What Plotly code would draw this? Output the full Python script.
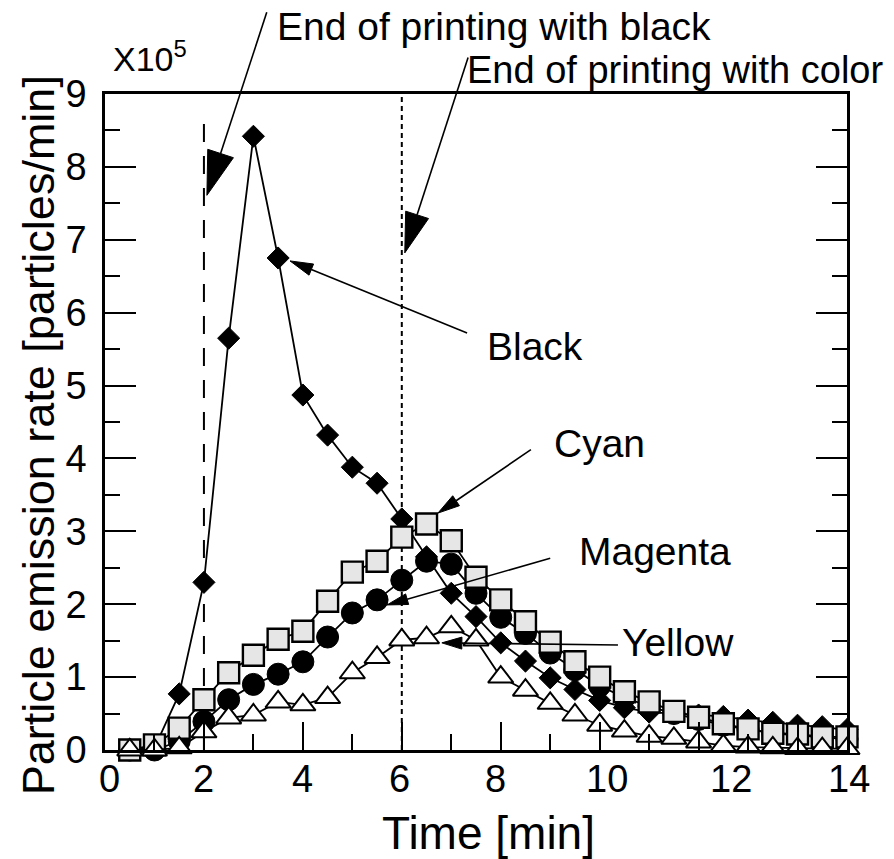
import math
import plotly.graph_objects as go

# ---- data -------------------------------------------------------------
TIME_MIN = [0.5, 1.0, 1.5, 2.0, 2.5, 3.0, 3.5, 4.0, 4.5, 5.0,
            5.5, 6.0, 6.5, 7.0, 7.5, 8.0, 8.5, 9.0, 9.5, 10.0,
            10.5, 11.0, 11.5, 12.0, 12.5, 13.0, 13.5, 14.0, 14.5, 15.0]

# emission rate, x10^5 particles/min
BLACK = [0.00, 0.03, 0.77, 2.30, 5.65, 8.42, 6.75, 4.87, 4.32, 3.88,
         3.66, 3.17, 2.65, 2.15, 1.83, 1.47, 1.22, 0.99, 0.83, 0.68,
         0.58, 0.52, 0.50, 0.48, 0.46, 0.41, 0.38, 0.34, 0.32, 0.28]
CYAN = [0.00, 0.07, 0.30, 0.69, 1.06, 1.30, 1.52, 1.63, 2.04, 2.44,
        2.59, 2.92, 3.10, 2.87, 2.37, 2.06, 1.76, 1.48, 1.21, 1.00,
        0.80, 0.66, 0.53, 0.45, 0.36, 0.29, 0.23, 0.22, 0.18, 0.18]
MAGENTA = [0.00, 0.00, 0.12, 0.39, 0.69, 0.90, 1.04, 1.21, 1.55, 1.88,
           2.06, 2.33, 2.59, 2.55, 2.15, 1.82, 1.60, 1.33, 1.10, 0.88,
           0.72, 0.60, 0.50, 0.42, 0.34, 0.28, 0.23, 0.20, 0.17, 0.15]
YELLOW = [0.00, 0.00, 0.03, 0.25, 0.44, 0.48, 0.66, 0.62, 0.72, 1.06,
          1.27, 1.51, 1.54, 1.69, 1.51, 1.00, 0.82, 0.64, 0.48, 0.34,
          0.26, 0.19, 0.16, 0.11, 0.06, 0.04, 0.03, 0.02, 0.02, 0.02]

X_TICK_TEXT = ["0", "2", "4", "6", "8", "10", "12", "14"]
X_TICK_TEXT_AT = [0.1, 2.0, 4.0, 5.95, 7.9, 10.15, 12.65, 15.05]
Y_TICKS = [0, 1, 2, 3, 4, 5, 6, 7, 8, 9]

END_BLACK_T = 2.0
END_COLOR_T = 6.0

# ---- geometry ---------------------------------------------------------
W, H = 894, 859
MARGIN = dict(l=105, r=47, t=94, b=109)
X_RANGE = [0, 15]
Y_RANGE = [0, 9]
PLOT_W = W - MARGIN["l"] - MARGIN["r"]
PLOT_H = H - MARGIN["t"] - MARGIN["b"]
PX_X = PLOT_W / (X_RANGE[1] - X_RANGE[0])
PX_Y = PLOT_H / (Y_RANGE[1] - Y_RANGE[0])

FONT = "Liberation Sans, Arial, Helvetica, sans-serif"


def to_paper(pt):
    return ((pt[0] - X_RANGE[0]) / (X_RANGE[1] - X_RANGE[0]),
            (pt[1] - Y_RANGE[0]) / (Y_RANGE[1] - Y_RANGE[0]))


def arrow(tail, tip, head_len, head_w, width=1.6):
    """Straight arrow with a filled triangular head, sized in pixels."""
    dx = (tip[0] - tail[0]) * PX_X
    dy = (tip[1] - tail[1]) * PX_Y
    n = math.hypot(dx, dy)
    ux, uy = dx / n, dy / n
    base = (tip[0] - ux * head_len / PX_X, tip[1] - uy * head_len / PX_Y)
    nx, ny = -uy, ux
    c1 = (base[0] + nx * head_w / 2 / PX_X, base[1] + ny * head_w / 2 / PX_Y)
    c2 = (base[0] - nx * head_w / 2 / PX_X, base[1] - ny * head_w / 2 / PX_Y)
    t0, b0 = to_paper(tail), to_paper(base)
    p_tip, p1, p2 = to_paper(tip), to_paper(c1), to_paper(c2)
    return [
        dict(type="line", xref="paper", yref="paper", layer="above",
             x0=t0[0], y0=t0[1], x1=b0[0], y1=b0[1],
             line=dict(color="black", width=width)),
        dict(type="path", xref="paper", yref="paper", layer="above",
             path=f"M{p_tip[0]},{p_tip[1]} L{p1[0]},{p1[1]} L{p2[0]},{p2[1]} Z",
             fillcolor="black", line=dict(color="black", width=1)),
    ]


def text_at(text, pt, size, **kw):
    px, py = to_paper(pt)
    d = dict(text=text, x=px, y=py, xref="paper", yref="paper",
             xanchor="left", yanchor="middle", showarrow=False,
             font=dict(family=FONT, size=size, color="black"))
    d.update(kw)
    return d


fig = go.Figure()

line_style = dict(color="black", width=1.8)
fig.add_trace(go.Scatter(
    x=TIME_MIN, y=BLACK, mode="lines+markers", name="Black", line=line_style,
    marker=dict(symbol="diamond", size=17, color="black",
                line=dict(color="black", width=1)),
    cliponaxis=False))
fig.add_trace(go.Scatter(
    x=TIME_MIN, y=MAGENTA, mode="lines+markers", name="Magenta", line=line_style,
    marker=dict(symbol="circle", size=22, color="black",
                line=dict(color="black", width=1)),
    cliponaxis=False))
fig.add_trace(go.Scatter(
    x=TIME_MIN, y=CYAN, mode="lines+markers", name="Cyan", line=line_style,
    marker=dict(symbol="square", size=21, color="#e6e6e6",
                line=dict(color="black", width=2.4)),
    cliponaxis=False))
fig.add_trace(go.Scatter(
    x=TIME_MIN, y=YELLOW, mode="lines+markers", name="Yellow", line=line_style,
    marker=dict(symbol="triangle-up", size=22, color="white",
                line=dict(color="black", width=2)),
    cliponaxis=False))

shapes = [
    dict(type="line", xref="x", yref="y", layer="below",
         x0=END_BLACK_T, x1=END_BLACK_T, y0=0, y1=8.67,
         line=dict(color="black", width=2, dash="18px,14px")),
    dict(type="line", xref="x", yref="y", layer="below",
         x0=END_COLOR_T, x1=END_COLOR_T, y0=0, y1=9,
         line=dict(color="black", width=2, dash="5px,4px")),
]
shapes += arrow((3.27, 10.12), (2.06, 7.61), 44, 27)
shapes += arrow((7.34, 9.50), (6.06, 6.82), 40, 24)
shapes += arrow((7.32, 5.72), (3.74, 6.71), 23, 12)
shapes += arrow((8.61, 4.12), (6.73, 3.25), 22, 12)
shapes += arrow((9.00, 2.63), (5.70, 1.99), 21, 11)
shapes += arrow((10.37, 1.44), (6.81, 1.47), 20, 12)

annotations = []
for text, pt, size in [("End of printing with black", (3.44, 9.93), 39),
                       ("End of printing with color", (7.28, 9.33), 38),
                       ("Black", (7.68, 5.54), 39),
                       ("Cyan", (9.04, 4.21), 39),
                       ("Magenta", (9.54, 2.72), 39),
                       ("Yellow", (10.41, 1.48), 39)]:
    annotations.append(text_at(text, pt, size))

annotations.append(text_at("X10<sup>5</sup>", (0.12, 9.52), 34))

for text, x in zip(X_TICK_TEXT, X_TICK_TEXT_AT):
    annotations.append(dict(text=text, x=to_paper((x, 0))[0], y=0,
                            xref="paper", yref="paper",
                            xanchor="center", yanchor="top", yshift=-6,
                            showarrow=False,
                            font=dict(family=FONT, size=38, color="black")))

annotations.append(dict(text="Time [min]", x=0.5175, y=-0.127,
                        xref="paper", yref="paper", xanchor="center",
                        yanchor="middle", showarrow=False,
                        font=dict(family=FONT, size=46, color="black")))
annotations.append(dict(text="Particle emission rate [particles/min]",
                        x=-0.09, y=0.48, xref="paper", yref="paper",
                        xanchor="center", yanchor="middle", textangle=-90,
                        showarrow=False,
                        font=dict(family=FONT, size=45, color="black")))

fig.update_layout(
    width=W, height=H, margin=MARGIN,
    paper_bgcolor="white", plot_bgcolor="white",
    showlegend=False,
    font=dict(family=FONT, color="black"),
    shapes=shapes, annotations=annotations,
    xaxis=dict(range=X_RANGE, showgrid=False, zeroline=False,
               showline=True, linecolor="black", linewidth=2.5, mirror=True,
               tickmode="array", tickvals=[0, 2, 4, 6, 8, 10, 12, 14],
               showticklabels=False,
               ticks="inside", ticklen=28, tickwidth=2, tickcolor="black",
               minor=dict(tickmode="array", tickvals=[1, 3, 5, 7, 9, 11, 13],
                          ticks="inside", ticklen=16, tickwidth=2,
                          tickcolor="black", showgrid=False)),
    yaxis=dict(range=Y_RANGE, showgrid=False, zeroline=False,
               showline=True, linecolor="black", linewidth=2.5, mirror="ticks",
               tickmode="array", tickvals=Y_TICKS,
               ticks="inside", ticklen=31, tickwidth=2, tickcolor="black",
               ticklabelstandoff=8,
               tickfont=dict(family=FONT, size=38, color="black"),
               minor=dict(dtick=0.5, ticks="inside", ticklen=15, tickwidth=2,
                          tickcolor="black", showgrid=False)),
)

fig.write_html("out.html")
